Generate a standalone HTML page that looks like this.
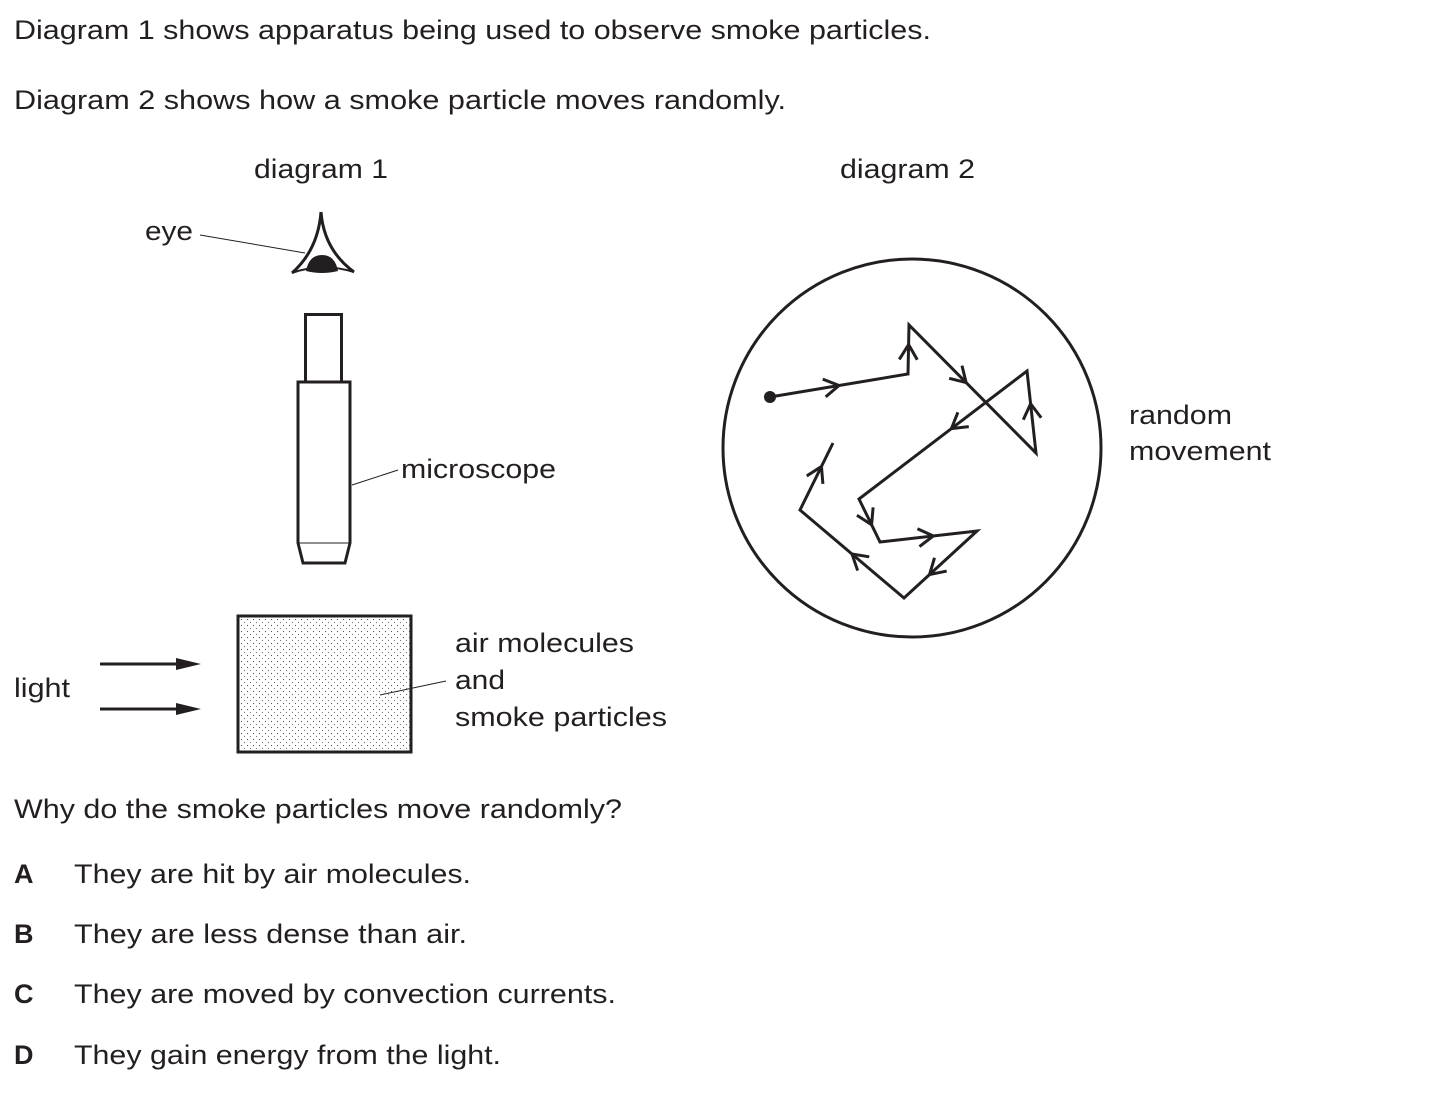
<!DOCTYPE html>
<html><head><meta charset="utf-8"><style>
html,body{margin:0;padding:0;background:#fff;}
svg{display:block;}
text{font-family:"Liberation Sans",Arial,sans-serif;font-size:27px;fill:#231f20;}
</style></head><body>
<svg id="s" width="1444" height="1094" viewBox="0 0 1444 1094" xmlns="http://www.w3.org/2000/svg">
<defs>
<pattern id="dots" width="6" height="6" patternUnits="userSpaceOnUse">
<circle cx="1.5" cy="1.5" r="0.6" fill="#555"/><circle cx="4.5" cy="4.5" r="0.6" fill="#777"/>
</pattern>
</defs>
<text x="14" y="39" textLength="917" lengthAdjust="spacingAndGlyphs">Diagram 1 shows apparatus being used to observe smoke particles.</text>
<text x="14" y="109" textLength="772" lengthAdjust="spacingAndGlyphs">Diagram 2 shows how a smoke particle moves randomly.</text>
<text x="254" y="178" textLength="134" lengthAdjust="spacingAndGlyphs">diagram 1</text>
<text x="840" y="178" textLength="135" lengthAdjust="spacingAndGlyphs">diagram 2</text>
<text x="145" y="240" textLength="48" lengthAdjust="spacingAndGlyphs">eye</text>
<line x1="200" y1="235" x2="305" y2="253" stroke="#231f20" stroke-width="1"/>
<path d="M321,212 Q318,250 292,273 M321,212 Q324,250 354,272" fill="none" stroke="#231f20" stroke-width="3"/>
<path d="M292,273 Q321,262 354,272" fill="none" stroke="#231f20" stroke-width="2"/>
<path d="M306,271 Q309,255 322,255 Q335,255 338,271 Q322,275 306,271 Z" fill="#231f20"/>
<g fill="none" stroke="#231f20" stroke-width="3">
<rect x="305.5" y="314.5" width="36" height="67.5"/>
<path d="M298,382 H350 V543 L345,563 H303 L298,543 Z"/>
</g>
<line x1="298" y1="543" x2="350" y2="543" stroke="#231f20" stroke-width="1"/>
<line x1="305" y1="382" x2="342" y2="382" stroke="#231f20" stroke-width="1"/>
<line x1="352" y1="485" x2="398" y2="470" stroke="#231f20" stroke-width="1"/>
<text x="401" y="478" textLength="155" lengthAdjust="spacingAndGlyphs">microscope</text>
<rect x="238" y="616" width="173" height="136" fill="url(#dots)" stroke="#231f20" stroke-width="3"/>
<line x1="380" y1="695" x2="446" y2="681" stroke="#231f20" stroke-width="1"/>
<text x="455" y="652" textLength="179" lengthAdjust="spacingAndGlyphs">air molecules</text>
<text x="455" y="689" textLength="50" lengthAdjust="spacingAndGlyphs">and</text>
<text x="455" y="726" textLength="212" lengthAdjust="spacingAndGlyphs">smoke particles</text>
<text x="14" y="697" textLength="56" lengthAdjust="spacingAndGlyphs">light</text>
<g stroke="#231f20" stroke-width="3"><line x1="100" y1="664" x2="180" y2="664"/><line x1="100" y1="709" x2="180" y2="709"/></g>
<polygon points="176,658 201,664 176,670" fill="#231f20"/>
<polygon points="176,703 201,709 176,715" fill="#231f20"/>
<circle cx="912" cy="448" r="189" fill="none" stroke="#231f20" stroke-width="3"/>
<circle cx="770" cy="397" r="6" fill="#231f20"/>
<polyline points="770,397 908,374 909,325 1036,453 1027,371 859,499 880,542 977,531 904,598 800,510 833,443" fill="none" stroke="#231f20" stroke-width="3"/>
<g id="ar" fill="none" stroke="#231f20" stroke-width="3"></g>
<text x="1129" y="424" textLength="103" lengthAdjust="spacingAndGlyphs">random</text>
<text x="1129" y="460" textLength="142" lengthAdjust="spacingAndGlyphs">movement</text>
<text x="14" y="818" textLength="608" lengthAdjust="spacingAndGlyphs">Why do the smoke particles move randomly?</text>
<text x="14" y="883" font-weight="bold">A</text><text x="74" y="883" textLength="397" lengthAdjust="spacingAndGlyphs">They are hit by air molecules.</text>
<text x="14" y="943" font-weight="bold">B</text><text x="74" y="943" textLength="393" lengthAdjust="spacingAndGlyphs">They are less dense than air.</text>
<text x="14" y="1003" font-weight="bold">C</text><text x="74" y="1003" textLength="542" lengthAdjust="spacingAndGlyphs">They are moved by convection currents.</text>
<text x="14" y="1064" font-weight="bold">D</text><text x="74" y="1064" textLength="427" lengthAdjust="spacingAndGlyphs">They gain energy from the light.</text>
</svg>
<script>
var pts=[[770,397],[908,374],[909,325],[1036,453],[1027,371],[859,499],[880,542],[977,531],[904,598],[800,510],[833,443]];
var tt=[0.5,0.6,0.45,0.6,0.45,0.6,0.55,0.65,0.5,0.65];
var g=document.getElementById('ar'),s='';
for(var i=0;i<10;i++){var a=pts[i],b=pts[i+1],t=tt[i];
var x=a[0]+(b[0]-a[0])*t,y=a[1]+(b[1]-a[1])*t;
var dx=b[0]-a[0],dy=b[1]-a[1],L=Math.hypot(dx,dy);dx/=L;dy/=L;
var bx=x-dx*15,by=y-dy*15,nx=-dy*9,ny=dx*9;
s+='<polyline points="'+(bx+nx)+','+(by+ny)+' '+x+','+y+' '+(bx-nx)+','+(by-ny)+'"/>';}
g.innerHTML=s;
</script>
</body></html>
